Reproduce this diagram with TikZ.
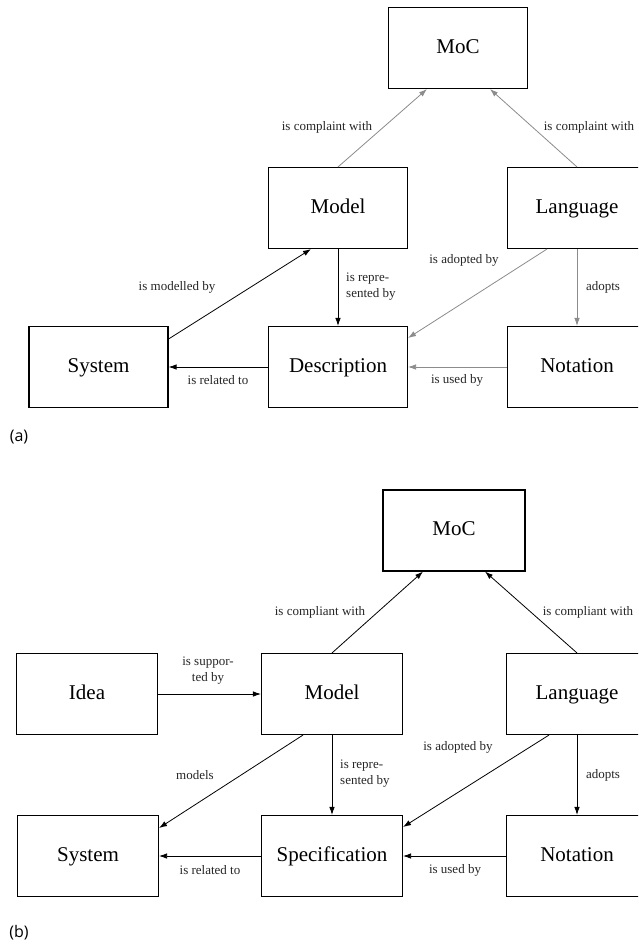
\documentclass[tikz,border=0pt]{standalone}
\usepackage{fontspec}
\setmainfont{Liberation Serif}
\newfontfamily\capfont{Open Sans}
\usetikzlibrary{arrows.meta}
\begin{document}
\begin{tikzpicture}[x=1pt,y=-1pt,
  concept/.style={draw=black, line width=1.1pt, fill=white,
    minimum width=139pt, minimum height=81pt, inner sep=0pt,
    text height=14pt, text depth=4pt,
    font=\fontsize{21}{24}\selectfont},
  rel/.style={line width=0.8pt, -{Latex[length=8pt,width=5.5pt]}},
  faint/.style={rel, draw=black!45, -{Latex[length=8pt,width=5.5pt,color=black!45]}},
  lbl/.style={inner sep=0pt, text=black!85, font=\fontsize{13}{16}\selectfont},
  caption/.style={inner sep=0pt, font=\capfont\fontsize{16}{18}\selectfont}]
\useasboundingbox (0,0) rectangle (638,945);
\clip (0,0) rectangle (638,945);
\fill[white] (0,0) rectangle (638,945);

% ---------- (a) ----------
\node[concept] (MoCa)  at (458,48)  {MoC};
\node[concept] (Modela) at (338,208) {Model};
\node[concept] (Langa) at (577,208) {Language};
\node[concept] (Sysa)  at (98.5,367) {System};
\node[concept] (Desca) at (338,367) {Description};
\node[concept] (Nota)  at (577,367) {Notation};

\draw[faint] (Modela.north) -- ([xshift=-31pt]MoCa.south);
\draw[faint] (Langa.north) -- ([xshift=32pt]MoCa.south);
\draw[rel] ([yshift=28pt]Sysa.east) -- ([xshift=-27pt]Modela.south);
\draw[rel] (Modela.south) -- (Desca.north);
\draw[rel] (Desca.west) -- (Sysa.east);
\draw[faint] ([xshift=-30pt]Langa.south) -- ([yshift=29pt]Desca.east);
\draw[faint] (Langa.south) -- (Nota.north);
\draw[faint] (Nota.west) -- (Desca.east);

\node[lbl] (la1) at (327,127) {is complaint with};
\node[lbl] (la2) at (589,127) {is complaint with};
\node[lbl] (la3) at (177,287) {is modelled by};
\node[lbl, anchor=west, align=left] (la4) at (346,287) {is repre-\\sented by};
\node[lbl] (la5) at (464,260) {is adopted by};
\node[lbl] (la6) at (603,287) {adopts};
\node[lbl] (la7) at (218,380) {is related to};
\node[lbl] (la8) at (457,380) {is used by};

\node[caption] (capa) at (19,437) {(a)};

% ---------- (b) ----------
\node[concept, minimum width=142pt] (MoCb) at (454,530.5) {MoC};
\node[concept, minimum width=141pt] (Idea) at (87,694) {Idea};
\node[concept, minimum width=141pt] (Modelb) at (332,694) {Model};
\node[concept, minimum width=141pt] (Langb) at (577,694) {Language};
\node[concept, minimum width=141pt] (Sysb) at (88,856) {System};
\node[concept, minimum width=141pt] (Spec) at (332,856) {Specification};
\node[concept, minimum width=141pt] (Notb) at (577,856) {Notation};

\draw[rel] (Modelb.north) -- ([xshift=-31pt]MoCb.south);
\draw[rel] (Langb.north) -- ([xshift=31pt]MoCb.south);
\draw[rel] (Idea.east) -- (Modelb.west);
\draw[rel] ([xshift=-29pt]Modelb.south) -- ([yshift=28pt]Sysb.east);
\draw[rel] (Modelb.south) -- (Spec.north);
\draw[rel] ([xshift=-28pt]Langb.south) -- ([yshift=29pt]Spec.east);
\draw[rel] (Langb.south) -- (Notb.north);
\draw[rel] (Spec.west) -- (Sysb.east);
\draw[rel] (Notb.west) -- (Spec.east);

\node[lbl] (lb1) at (320,612) {is compliant with};
\node[lbl] (lb2) at (588,612) {is compliant with};
\node[lbl, align=center] (lb3) at (208,671) {is suppor-\\ted by};
\node[lbl] (lb4) at (195,775) {models};
\node[lbl, anchor=west, align=left] (lb5) at (340,774) {is repre-\\sented by};
\node[lbl] (lb6) at (458,747) {is adopted by};
\node[lbl] (lb7) at (603,775) {adopts};
\node[lbl] (lb8) at (210,870) {is related to};
\node[lbl] (lb9) at (455,870) {is used by};

\node[caption] (capb) at (19,933) {(b)};
\end{tikzpicture}
\end{document}
